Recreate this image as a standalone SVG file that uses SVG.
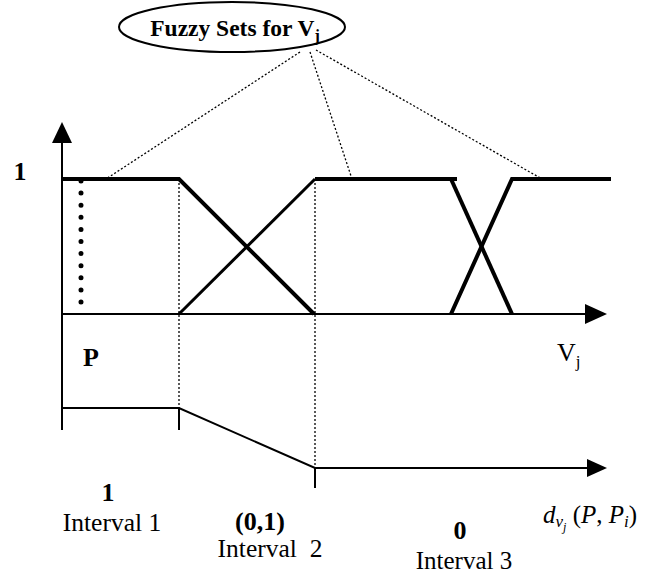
<svg xmlns="http://www.w3.org/2000/svg" width="661" height="576" viewBox="0 0 661 576">
<style>
.t{font-family:"Liberation Serif","Times New Roman",serif;fill:#000}
.b{font-weight:bold}
.ax{stroke:#000;stroke-width:2;fill:none}
.mf{stroke:#000;stroke-width:4;fill:none}
.mft{stroke:#000;stroke-width:3;fill:none}
.dot{stroke:#000;stroke-width:1.3;stroke-dasharray:2 2;fill:none}
.ah{fill:#000}
</style>
<rect width="661" height="576" fill="#fff"/>
<g id="title">
<ellipse cx="232" cy="27" rx="113" ry="25" fill="#fff" stroke="#000" stroke-width="2"/>
<text class="t b" x="235" y="36" font-size="23.5" text-anchor="middle">Fuzzy Sets for V<tspan font-size="16" dy="5">j</tspan></text>
</g>
<g id="connectors">
<line class="dot" x1="300" y1="52" x2="106" y2="179"/>
<line class="dot" x1="310" y1="52" x2="352" y2="179"/>
<line class="dot" x1="316" y1="50" x2="542" y2="179"/>
<line class="dot" x1="179" y1="179" x2="179" y2="408"/>
<line class="dot" x1="315" y1="179" x2="315" y2="468"/>
</g>
<g id="axes">
<line class="ax" x1="62" y1="140" x2="62" y2="430"/>
<polygon class="ah" points="62,122 52,143 72,143"/>
<line class="ax" x1="62" y1="314" x2="590" y2="314"/>
<polygon class="ah" points="607,314 585,304 585,324"/>
</g>
<g id="fuzzy-set-1">
<polyline class="mf" points="62,179 179,179 314,314"/>
</g>
<g id="fuzzy-set-2">
<polyline class="mft" points="179,314 315,179"/>
<polyline class="mf" points="315,179 457,179"/>
<polyline class="mf" points="451,179 512,314"/>
</g>
<g id="fuzzy-set-3">
<polyline class="mf" points="451,314 512,179 611,179"/>
</g>
<g id="point-P">
<line x1="81" y1="181" x2="81" y2="314" stroke="#000" stroke-width="5" stroke-linecap="round" stroke-dasharray="0 12.1"/>
<text class="t b" x="91" y="366" font-size="26" text-anchor="middle">P</text>
</g>
<g id="labels">
<text class="t b" x="20" y="180" font-size="26" text-anchor="middle">1</text>
<text class="t" x="557" y="361" font-size="26">V<tspan font-size="17" dy="6">j</tspan></text>
</g>
<g id="distance">
<polyline class="ax" points="62,408 179,408 315,468 590,468"/>
<polygon class="ah" points="607,468 587,459 587,477"/>
<line class="ax" x1="179" y1="408" x2="179" y2="430"/>
<line class="ax" x1="315" y1="468" x2="315" y2="488"/>
</g>
<g id="interval-1">
<text class="t b" x="108" y="501" font-size="26" text-anchor="middle">1</text>
<text class="t" x="112" y="531" font-size="25.5" text-anchor="middle">Interval 1</text>
</g>
<g id="interval-2">
<text class="t b" x="260" y="530" font-size="26" text-anchor="middle">(0,1)</text>
<text class="t" x="270" y="557" font-size="25.5" text-anchor="middle" xml:space="preserve">Interval  2</text>
</g>
<g id="interval-3">
<text class="t b" x="460" y="539" font-size="26" text-anchor="middle">0</text>
<text class="t" x="464" y="569" font-size="25" text-anchor="middle">Interval 3</text>
</g>
<g id="d-label">
<text class="t" x="543" y="523" font-size="25" font-style="italic" xml:space="preserve">d<tspan font-size="17" dy="4">v</tspan><tspan font-size="12" dy="4">j</tspan><tspan font-size="25" dy="-8" font-style="normal"> (</tspan>P<tspan font-style="normal">, </tspan>P<tspan font-size="17" dy="4">i</tspan><tspan font-size="25" dy="-4" font-style="normal">)</tspan></text>
</g>
</svg>
